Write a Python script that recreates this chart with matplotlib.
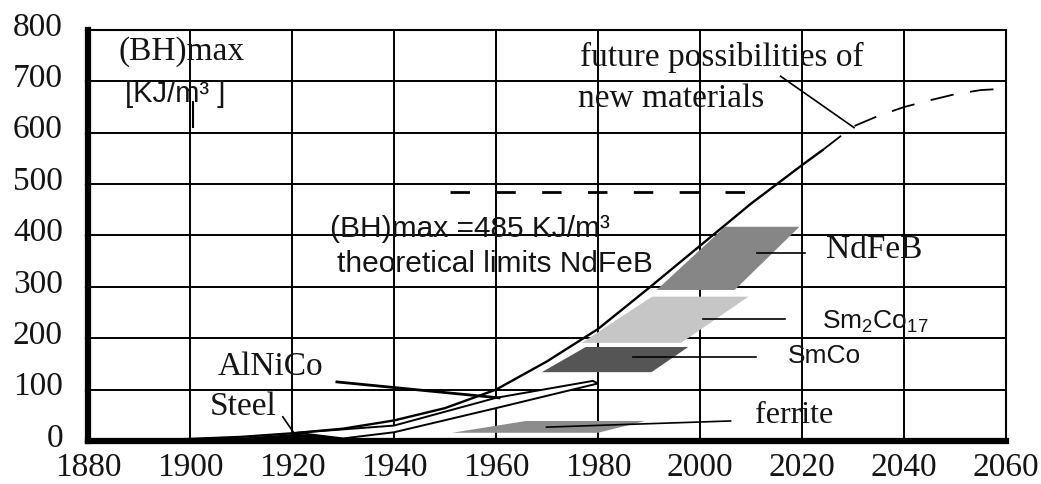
import matplotlib
matplotlib.use("Agg")
import matplotlib.pyplot as plt
from matplotlib.patches import Polygon
from matplotlib.transforms import ScaledTranslation

plt.rcParams["lines.scale_dashes"] = False

SERIF = ["Liberation Serif", "DejaVu Serif"]
SANS = ["Liberation Sans", "DejaVu Sans"]
INK = "#141414"

# Axis ticks
year_ticks = [1880, 1900, 1920, 1940, 1960, 1980, 2000, 2020, 2040, 2060]
bh_ticks = [0, 100, 200, 300, 400, 500, 600, 700, 800]

# Best available (BH)max over time [kJ/m3]
trend_years = [1880, 1890, 1900, 1910, 1920, 1930, 1940, 1950, 1960,
               1970, 1980, 1990, 2000, 2010, 2020, 2024]
trend_bh = [0, 1, 4, 8, 15, 24, 40, 64, 100, 155, 218, 298, 380, 462, 537, 566]

# Projected growth for new materials
future_years = [2024, 2030, 2035, 2040, 2045, 2050, 2055, 2060]
future_bh = [566, 612, 633, 650, 663, 675, 683, 686]

# Theoretical limit for NdFeB
limit_bh = 485
limit_years = [1951, 2012]

# Material regions (corner years / corner BH values)
steel_years = [1880, 1908, 1921, 1934, 1947]
steel_bh = [0, 5, 14, 5, 0]
alnico_years = [1921, 1940, 1960, 1979, 1980, 1960, 1940, 1930]
alnico_bh = [16, 30, 84, 117, 112, 64, 17, 5]
ferrite_years = [1951.4, 1980, 1989.3, 1965.9]
ferrite_bh = [16, 16, 39, 39]
smco_years = [1969, 1990.5, 1997.7, 1977.6]
smco_bh = [134, 134, 183, 183]
sm2co17_years = [1976.8, 1996.3, 2009.5, 1990.6]
sm2co17_bh = [191, 191, 281, 281]
ndfeb_years = [1991.5, 2006.8, 2019.5, 2004.9]
ndfeb_bh = [294, 294, 417, 417]

# Leader lines from labels to regions: (year0, bh0, year1, bh1, width)
leaders = [
    (2011.2, 366, 2020.5, 366, 1.2),   # NdFeB
    (2000.6, 238, 2016.6, 238, 1.2),   # Sm2Co17
    (1986.9, 164, 2010.9, 164, 1.2),   # SmCo
    (1969.9, 27, 2006.0, 39, 1.2),     # ferrite
    (1928.8, 115, 1960.6, 84, 2.0),    # AlNiCo
    (1918.2, 47, 1920.9, 8, 1.2),      # Steel
    (2015.8, 710, 2030.2, 610, 1.2),   # future possibilities
]

fig = plt.figure(figsize=(10.41, 4.84), dpi=100)
ax = fig.add_axes([88 / 1041, 43 / 484, (1006 - 88) / 1041, (441 - 30) / 484])
ax.set_xlim(1880, 2060)
ax.set_ylim(0, 800)
ax.set_xticks(year_ticks)
ax.set_yticks(bh_ticks)
ax.set_axisbelow(True)
ax.grid(True, color="black", lw=1.4)

for side, lw in (("left", 4.5), ("bottom", 4.5), ("top", 1.5), ("right", 1.5)):
    ax.spines[side].set_linewidth(lw)
    ax.spines[side].set_color("black")
    ax.spines[side].set_zorder(5)

ax.tick_params(axis="x", length=0, pad=8)
ax.tick_params(axis="y", direction="out", length=3, width=1, color="#999999", pad=15)
for lbl in ax.get_xticklabels() + ax.get_yticklabels():
    lbl.set_fontfamily(SERIF)
    lbl.set_fontsize(24)
    lbl.set_color(INK)
for lbl in ax.get_yticklabels():
    lbl.set_transform(lbl.get_transform() + ScaledTranslation(0, 0.06, fig.dpi_scale_trans))

# Regions
def region(xs, ys, face, edge=None, lw=0.0, z=2):
    ax.add_patch(Polygon(list(zip(xs, ys)), closed=True, facecolor=face,
                         edgecolor=edge if edge else face, lw=lw, zorder=z))

region(steel_years, steel_bh, "black", z=3)
region(alnico_years, alnico_bh, "white", edge="black", lw=1.4, z=3)
region(ferrite_years, ferrite_bh, "#8c8c8c")
region(smco_years, smco_bh, "#555555")
region(sm2co17_years, sm2co17_bh, "#c6c6c6")
region(ndfeb_years, ndfeb_bh, "#868686")

# Trend curves
ax.plot(trend_years, trend_bh, color="black", lw=1.7, zorder=4)
ax.plot(future_years, future_bh, color="black", lw=1.3, zorder=4,
        dashes=(17, 12))
ax.plot(limit_years, [limit_bh, limit_bh], color="black", lw=2.0, zorder=4,
        dashes=(14, 19))

for x0, y0, x1, y1, w in leaders:
    ax.plot([x0, x1], [y0, y1], color="black", lw=w, zorder=4)

# Small mark under the unit label
ax.plot([1900.5, 1900.5], [612, 660], color="black", lw=1.5, zorder=4)

# Labels
def label(x, y, s, fam, size):
    ax.text(x, y, s, family=fam, fontsize=size, color=INK, ha="left",
            va="baseline", zorder=6)

label(1885.9, 741.6, "(BH)max", SERIF, 24)
label(1887.3, 660.5, "[KJ/m³ ]", SANS, 21)
label(1976.5, 729, "future possibilities of", SERIF, 24)
label(1976.1, 650.7, "new materials", SERIF, 24)
label(1927.5, 397.7, "(BH)max =485 KJ/m³", SANS, 21.5)
label(1928.8, 329.6, "theoretical limits NdFeB", SANS, 21.5)
label(2024.8, 355.6, "NdFeB", SERIF, 24)
label(2023.9, 219, r"Sm$\mathregular{_{2}}$Co$\mathregular{_{17}}$", SANS, 19)
label(2017.3, 151, "SmCo", SANS, 19)
label(2010.8, 34.4, "ferrite", SERIF, 23)
label(1905.5, 128.5, "AlNiCo", SERIF, 24)
label(1903.9, 50.6, "Steel", SERIF, 24)

fig.savefig("out.png", dpi=100)
